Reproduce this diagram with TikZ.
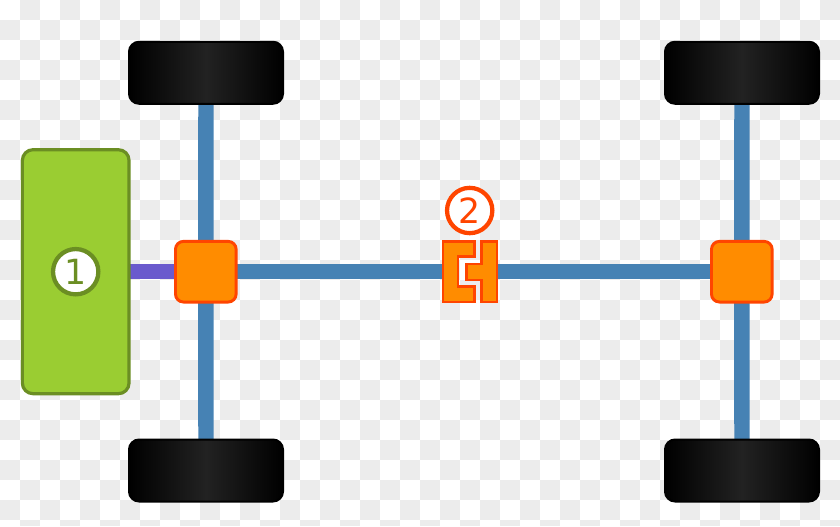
\documentclass[tikz,border=0pt]{standalone}
\usetikzlibrary{backgrounds}
\usepackage{fontspec}
\setmainfont{DejaVu Sans}
\definecolor{shaft}{HTML}{4682B4}
\definecolor{input}{HTML}{6A5ACD}
\definecolor{engfill}{HTML}{9ACD32}
\definecolor{engline}{HTML}{6B8E23}
\definecolor{boxfill}{HTML}{FF8C00}
\definecolor{boxline}{HTML}{FF4500}
\definecolor{checker}{HTML}{ECECEC}
\definecolor{tyremid}{HTML}{222222}
\tikzset{
  px/.style={x=0.75pt,y=-0.75pt},
  shaftline/.style={draw=shaft,line width=11.6pt,shorten <=-3pt,shorten >=-3pt},
  inputline/.style={draw=input,line width=11.6pt,shorten <=-3pt,shorten >=-3pt},
  tyre/.style={draw=black,line width=1.5pt,rounded corners=7.5pt,left color=black,right color=black,middle color=tyremid,inner sep=0,minimum width=115.5pt,minimum height=46.5pt},
  engine/.style={draw=engline,fill=engfill,line width=2.4pt,rounded corners=8pt,inner sep=0,minimum width=80pt,minimum height=183pt},
  diffbox/.style={draw=boxline,fill=boxfill,line width=2.2pt,rounded corners=6pt,inner sep=0,minimum width=45.5pt,minimum height=45.5pt},
  clutchpart/.style={draw=boxline,fill=boxfill,line width=2.1pt,line join=miter},
  badge/.style={circle,fill=white,line width=3.2pt,minimum size=34pt,inner sep=0pt,font=\fontsize{26}{26}\selectfont}
}
\begin{document}
\begin{tikzpicture}[px]
\useasboundingbox (0,0) rectangle (840,526);
% tyres
\node[tyre] (wheelFL) at (206,72.75) {};
\node[tyre] (wheelRL) at (206,470.5) {};
\node[tyre] (wheelFR) at (742,72.75) {};
\node[tyre] (wheelRR) at (742,470.5) {};
% boxes
\node[engine] (engineBox) at (75.7,271.7) {};
\node[diffbox] (diffL) at (205.8,271.7) {};
\node[diffbox] (diffR) at (741.8,271.7) {};
\coordinate (clutchL) at (448,271.7);
\coordinate (clutchR) at (490,271.7);
\begin{pgfonlayer}{background}
\fill[white] (0,0) rectangle (840,526);
\foreach \i in {0,...,41}{\foreach \j in {0,...,26}{
  \pgfmathparse{int(mod(\i+\j,2))}
  \ifnum\pgfmathresult=1
    \fill[checker] (20*\i,20*\j) rectangle ({min(20*\i+20,840)},{min(20*\j+20,526)});
  \fi
}}
% shafts
\path[shaftline] (wheelFL.south) -- (diffL.north);
\path[shaftline] (diffL.south) -- (wheelRL.north);
\path[shaftline] (wheelFR.south) -- (diffR.north);
\path[shaftline] (diffR.south) -- (wheelRR.north);
\path[inputline] (engineBox.east) -- (diffL.west);
\path[shaftline] (diffL.east) -- (clutchL);
\path[shaftline] (clutchR) -- (diffR.west);
\end{pgfonlayer}
% clutch
\path[clutchpart] (443,241.5) -- (474.5,241.5) -- (474.5,256.5) -- (458,256.5) -- (458,286.5) -- (474.5,286.5) -- (474.5,302) -- (443,302) -- cycle;
\path[clutchpart] (481.5,241.5) -- (497,241.5) -- (497,302) -- (481.5,302) -- (481.5,280) -- (466.5,280) -- (466.5,264) -- (481.5,264) -- cycle;
% badges
\node[badge,draw=engline,text=engline] (badgeA) at (75.7,271.7) {1};
\node[badge,draw=boxline,text=boxline] (badgeB) at (469.7,210.5) {2};
\end{tikzpicture}
\end{document}
